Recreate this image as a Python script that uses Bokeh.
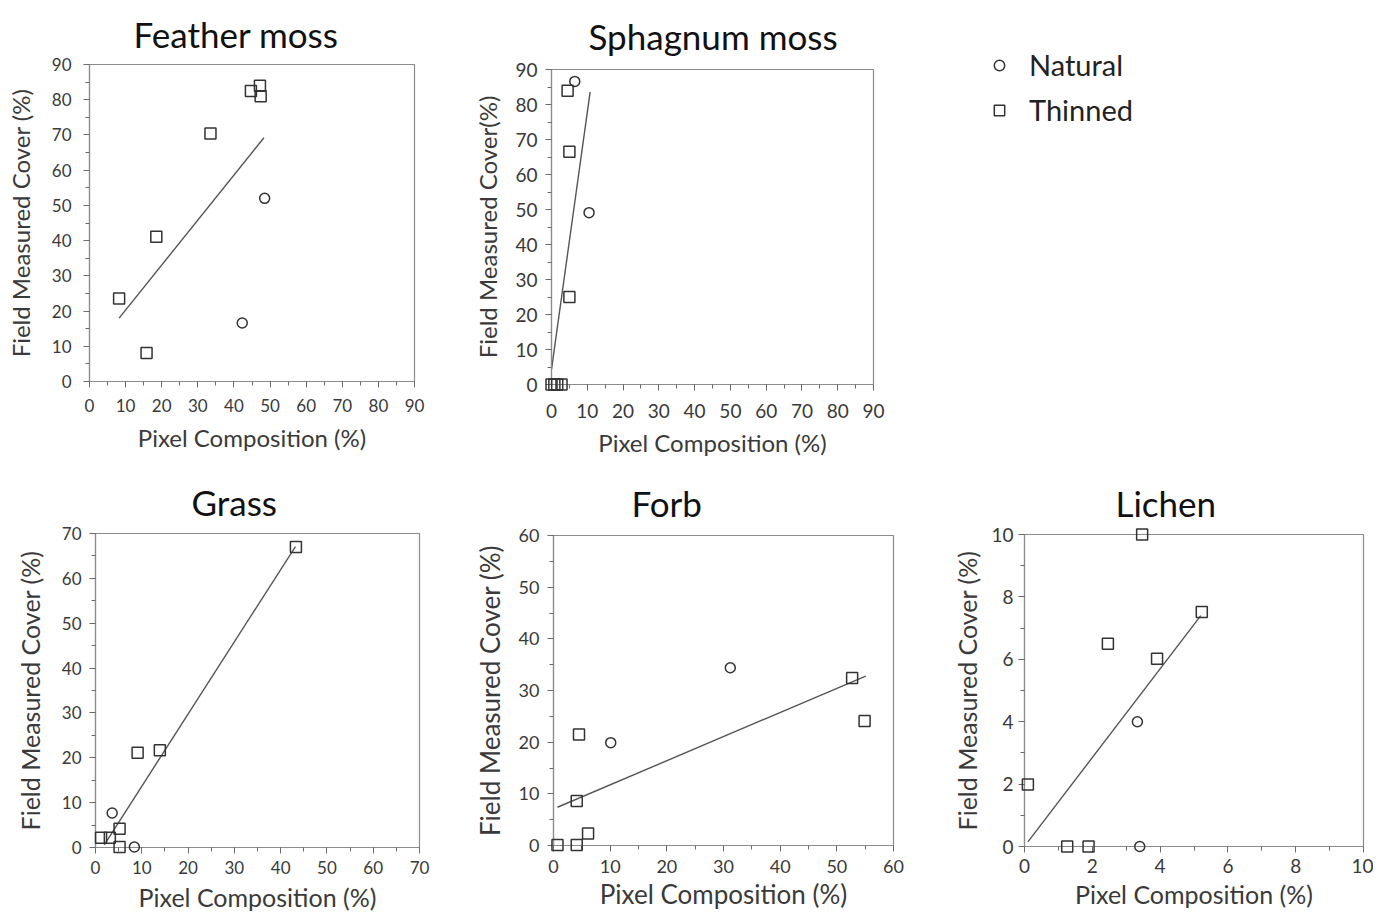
from bokeh.plotting import figure
from bokeh.layouts import row, column
from bokeh.models import Range1d, SingleIntervalTicker, Legend
from bokeh.embed import file_html
from bokeh.resources import INLINE

# ---------------- data ----------------
feather_nat_x = [48.5, 42.3]
feather_nat_y = [52.0, 16.6]
feather_thin_x = [8.2, 15.8, 18.5, 33.5, 44.7, 47.2, 47.4]
feather_thin_y = [23.6, 8.1, 41.1, 70.4, 82.5, 84.0, 81.0]
feather_fit_x = [8.2, 48.3]
feather_fit_y = [18.0, 69.2]

sphag_nat_x = [6.5, 10.5]
sphag_nat_y = [86.6, 49.1]
sphag_thin_x = [4.5, 5.0, 5.0, 0.0, 0.8, 1.6, 2.8]
sphag_thin_y = [83.9, 66.5, 25.0, 0.0, 0.0, 0.0, 0.0]
sphag_fit_x = [0.0, 10.8]
sphag_fit_y = [4.3, 83.6]

grass_nat_x = [3.6, 8.4]
grass_nat_y = [7.7, 0.1]
grass_thin_x = [43.3, 9.1, 13.9, 5.2, 1.2, 3.1, 5.2]
grass_thin_y = [67.0, 21.1, 21.7, 4.2, 2.2, 2.2, 0.1]
grass_fit_x = [1.9, 43.2]
grass_fit_y = [0.6, 67.1]

forb_nat_x = [31.2, 10.1]
forb_nat_y = [34.4, 19.9]
forb_thin_x = [52.7, 54.9, 4.5, 4.1, 6.1, 0.7, 4.1]
forb_thin_y = [32.4, 24.1, 21.5, 8.6, 2.3, 0.1, 0.1]
forb_fit_x = [0.7, 55.1]
forb_fit_y = [7.4, 32.8]

lichen_nat_x = [3.33, 3.4]
lichen_nat_y = [4.0, 0.0]
lichen_thin_x = [3.47, 5.23, 2.46, 3.91, 0.1, 1.26, 1.89]
lichen_thin_y = [10.0, 7.52, 6.5, 6.02, 1.99, 0.0, 0.0]
lichen_fit_x = [0.1, 5.2]
lichen_fit_y = [0.15, 7.4]

titles = ["Feather moss", "Sphagnum moss", "Grass", "Forb", "Lichen"]
x_label = "Pixel Composition (%)"
y_labels = ["Field Measured Cover (%)", "Field Measured Cover(%)",
            "Field Measured Cover (%)", "Field Measured Cover (%)",
            "Field Measured Cover (%)"]
legend_labels = ["Natural", "Thinned"]

FONT = "Lato"
INK = "#333333"


def panel(title, ylab, xmax, ymax, interval, nat, thin, fit,
          fw, fh, bl, br, bt, bb, t_standoff, t_offset,
          title_fs, lab_fs, tick_fs, xs, xls, ys=8, yls=10):
    p = figure(frame_width=fw, frame_height=fh, output_backend="svg",
               toolbar_location=None, x_range=Range1d(0, xmax),
               y_range=Range1d(0, ymax), min_border_left=bl,
               min_border_right=br, min_border_top=bt, min_border_bottom=bb,
               frame_align=False)
    p.title.text = title
    p.title.align = "left"
    p.title.text_font = FONT
    p.title.text_font_size = title_fs
    p.title.text_font_style = "normal"
    p.title.text_color = "#111111"
    p.title.standoff = t_standoff
    p.title.offset = t_offset
    p.xgrid.visible = False
    p.ygrid.visible = False
    p.outline_line_color = "#8c8c8c"
    p.outline_line_width = 1.2
    p.background_fill_color = "white"
    p.border_fill_color = "white"
    for ax, lab in ((p.xaxis, x_label), (p.yaxis, ylab)):
        ax.ticker = SingleIntervalTicker(interval=interval, num_minor_ticks=2)
        ax.axis_label = lab
        ax.axis_label_text_font = FONT
        ax.axis_label_text_font_size = lab_fs
        ax.axis_label_text_font_style = "normal"
        ax.axis_label_text_color = "#3a3a3a"
        ax.major_label_text_font = FONT
        ax.major_label_text_font_size = tick_fs
        ax.major_label_text_color = "#3a3a3a"
        ax.axis_line_color = "#8c8c8c"
        ax.axis_line_width = 1.2
        ax.major_tick_line_color = "#6a6a6a"
        ax.minor_tick_line_color = "#6a6a6a"
        ax.major_tick_in = 0
        ax.major_tick_out = 6
        ax.minor_tick_in = 0
        ax.minor_tick_out = 4
    p.xaxis.major_label_standoff = xs
    p.xaxis.axis_label_standoff = xls
    p.yaxis.major_label_standoff = ys
    p.yaxis.axis_label_standoff = yls
    p.line(fit[0], fit[1], line_color="#555555", line_width=1.4)
    rn = p.scatter(nat[0], nat[1], marker="circle", size=10,
                   fill_color="white", fill_alpha=0, line_color=INK,
                   line_width=1.5, level="overlay")
    rt = p.scatter(thin[0], thin[1], marker="square", size=11,
                   fill_color="white", fill_alpha=0, line_color=INK,
                   line_width=1.5, level="overlay")
    return p, rn, rt


f1, _, _ = panel(titles[0], y_labels[0], 90, 90, 10,
                 (feather_nat_x, feather_nat_y),
                 (feather_thin_x, feather_thin_y),
                 (feather_fit_x, feather_fit_y),
                 325, 317, 89, 56, 56, 87, 20, 44,
                 "35px", "24px", "17px", 11, 8, ys=12, yls=14)

f2, rn2, rt2 = panel(titles[1], y_labels[1], 90, 90, 10,
                     (sphag_nat_x, sphag_nat_y),
                     (sphag_thin_x, sphag_thin_y),
                     (sphag_fit_x, sphag_fit_y),
                     322, 315, 77, 481, 62, 83, 25, 37,
                     "35px", "24px", "19px", 13, 7)

legend = Legend(items=[(legend_labels[0], [rn2]), (legend_labels[1], [rt2])],
                location=(113, 257), border_line_color=None,
                background_fill_alpha=0, label_text_font=FONT,
                label_text_font_size="29px", label_text_color="#222222",
                glyph_width=26, glyph_height=26, spacing=10,
                label_standoff=17, padding=0, margin=0)
f2.add_layout(legend, "right")

f3, _, _ = panel(titles[2], y_labels[2], 70, 70, 10,
                 (grass_nat_x, grass_nat_y),
                 (grass_thin_x, grass_thin_y),
                 (grass_fit_x, grass_fit_y),
                 324, 314, 95, 51, 0, 0, 21, 96,
                 "35px", "25px", "17px", 7, 5, ys=8, yls=14)

f4, _, _ = panel(titles[3], y_labels[3], 60, 60, 10,
                 (forb_nat_x, forb_nat_y),
                 (forb_thin_x, forb_thin_y),
                 (forb_fit_x, forb_fit_y),
                 340, 310, 75, 55, 0, 0, 23, 78,
                 "35px", "26px", "18px", 8, 2)

f5, _, _ = panel(titles[4], y_labels[4], 10, 10, 2,
                 (lichen_nat_x, lichen_nat_y),
                 (lichen_thin_x, lichen_thin_y),
                 (lichen_fit_x, lichen_fit_y),
                 339, 312, 76, 10, 0, 0, 22, 91,
                 "35px", "25px", "19px", 6, 3, ys=5, yls=6)

layout = column(row(f1, f2), row(f3, f4, f5))

open("out.html", "w").write(file_html(layout, INLINE))
